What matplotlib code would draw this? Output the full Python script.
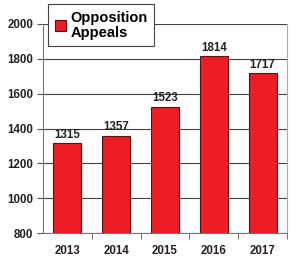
import matplotlib
matplotlib.use("Agg")
import matplotlib.pyplot as plt

years = ["2013", "2014", "2015", "2016", "2017"]
values = [1315, 1357, 1523, 1814, 1717]
series_label = "Opposition\nAppeals"
yticks = [800, 1000, 1200, 1400, 1600, 1800, 2000]

plt.rcParams['font.family'] = ['Liberation Sans', 'DejaVu Sans']
plt.rcParams['font.weight'] = 'bold'

fig = plt.figure(figsize=(3.0, 2.62), dpi=100)
ax = fig.add_axes([43/300, 29/262, 244/300, 209/262])

x = list(range(len(years)))
bars = ax.bar(x, values, width=0.57, color="#EE1C25", edgecolor="#5a1010",
              linewidth=0.8, label=series_label, zorder=3)
for xi, v in zip(x, values):
    ax.annotate(str(v), (xi, v), xytext=(0, 2), textcoords="offset points",
                ha="center", va="bottom", fontsize=8.3,
                fontweight="bold", color="#222222", zorder=4)

ax.set_xlim(-0.5, len(years) - 0.5)
ax.set_ylim(800, 2000)
ax.set_yticks(yticks)
ax.set_yticklabels([str(t) for t in yticks], fontsize=8.3, fontweight="bold",
                   color="#222222")
ax.set_xticks(x)
ax.set_xticklabels(years, fontsize=8.3, fontweight="bold", color="#222222")
ax.tick_params(axis="x", length=0, pad=9)
ax.set_xticks([i + 0.5 for i in range(len(years))], minor=True)
ax.tick_params(axis="x", which="minor", length=4, color="#555555", direction="out")
ax.tick_params(axis="y", length=4, color="#555555", pad=3)

ax.yaxis.grid(True, color="#444444", linewidth=0.8, zorder=0)
ax.set_axisbelow(True)
for side in ["left", "bottom"]:
    ax.spines[side].set_color("#777777")
    ax.spines[side].set_linewidth(0.8)
ax.spines["right"].set_color("#aaaaaa")
ax.spines["right"].set_linewidth(0.8)
ax.spines["top"].set_visible(False)

leg = ax.legend(loc="upper left", bbox_to_anchor=(48/300, 1 - 4/262),
                bbox_transform=fig.transFigure, fancybox=False,
                edgecolor="#444444", framealpha=1,
                prop={"weight": "bold", "size": 10.5},
                handlelength=0.75, handleheight=0.75, handletextpad=0.35,
                borderpad=0.45, borderaxespad=0)
leg.get_frame().set_linewidth(0.8)
for t in leg.get_texts():
    t.set_linespacing(1.1)
leg.set_zorder(10)

fig.savefig("out.png", dpi=100)
